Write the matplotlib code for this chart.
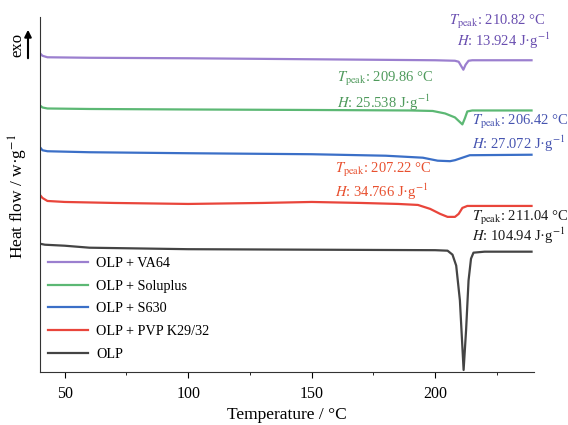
import matplotlib.pyplot as plt
from matplotlib.ticker import MultipleLocator

plt.rcParams['font.family'] = ['Liberation Serif', 'DejaVu Serif']
plt.rcParams['mathtext.fontset'] = 'stix'

# DSC curves, heat flow in arbitrary units (curves stacked, exo up)
t_va64 = [40, 41, 43, 60, 100, 150, 200, 208, 209.5, 211.4, 212.3, 213.5, 215, 239]
hf_va64 = [320.5, 318, 316.5, 316, 315.5, 314.5, 313.5, 313, 312, 304, 309, 313, 313.5, 313.5]

t_solu = [40, 41, 43, 60, 100, 150, 190, 199, 204, 208, 211, 212, 213, 215, 239]
hf_solu = [268, 266, 265, 264.5, 264, 263.5, 263, 262.5, 260, 256, 249, 255, 262, 263, 263]

t_s630 = [40, 41, 43, 60, 100, 150, 180, 195, 201, 206, 208, 211, 214, 239]
hf_s630 = [226, 223, 222, 221, 220, 219, 217.5, 215.5, 212.5, 212, 213, 215.5, 218, 218.5]

t_pvp = [40, 41, 43, 50, 70, 100, 130, 150, 170, 185, 193, 198, 202, 205, 208, 209.5, 211, 213, 239]
hf_pvp = [178, 175, 172, 171, 170, 169, 170, 171, 170, 169, 168, 164, 159, 156, 156, 159, 165, 167, 167]

t_olp = [40, 42, 50, 60, 100, 150, 200, 205, 207, 208.5, 210, 211.5, 212.5, 213.5, 214.5, 215.5, 220, 239]
hf_olp = [129, 128, 127, 125, 123.5, 123, 122.5, 122, 118, 107, 72, 2, 42, 92, 114, 120, 121, 121]

labels = ["OLP + VA64", "OLP + Soluplus", "OLP + S630", "OLP + PVP K29/32", "OLP"]
line_colors = ["#9b7fcf", "#5cb874", "#3b6fc7", "#e9453b", "#444444"]
text_colors = ["#6a4fb0", "#4f9a5c", "#4654b0", "#e8502f", "#1a1a1a"]

# annotations: (Tpeak, H, x, y of first line)
t_peaks = ["210.82", "209.86", "206.42", "207.22", "211.04"]
enthalpies = ["13.924", "25.538", "27.072", "34.766", "104.94"]
ann_pos = [(205.6, 352, 208.8, 333),
           (160.2, 295, 160.2, 271),
           (214.9, 251, 214.9, 229),
           (159.4, 203, 159.4, 181),
           (214.9, 155, 214.9, 137)]

fig = plt.figure(figsize=(5.68, 4.25), dpi=100)
ax = fig.add_axes([40 / 568, 53 / 425, 494 / 568, 355 / 425])

series = [(t_va64, hf_va64), (t_solu, hf_solu), (t_s630, hf_s630),
          (t_pvp, hf_pvp), (t_olp, hf_olp)]
for (t, hf), lab, c in zip(series, labels, line_colors):
    ax.plot(t, hf, color=c, lw=1.6, label=lab)

for i in range(5):
    x1, y1, x2, y2 = ann_pos[i]
    ax.text(x1, y1, r"$T_{\mathrm{peak}}$: " + t_peaks[i] + " °C",
            color=text_colors[i], fontsize=10.5, va="center", ha="left")
    ax.text(x2, y2, r"$H$: " + enthalpies[i] + r" J·g$^{\mathrm{-1}}$",
            color=text_colors[i], fontsize=10.5, va="center", ha="left")

ax.set_xlim(40, 240)
ax.set_ylim(0, 357)
ax.xaxis.set_major_locator(MultipleLocator(50))
ax.xaxis.set_minor_locator(MultipleLocator(25))
ax.tick_params(axis="x", which="major", direction="out", length=4, labelsize=11.5, pad=6)
ax.tick_params(axis="x", which="minor", direction="out", length=2.5)
ax.set_yticks([])
for s in ["top", "right"]:
    ax.spines[s].set_visible(False)
ax.spines["left"].set_color("#333333")
ax.spines["bottom"].set_color("#333333")

ax.set_xlabel("Temperature / °C", fontsize=12.5, labelpad=4)
fig.text(18 / 568, 1 - 196 / 425, r"Heat flow / w·g$^{\mathrm{-1}}$",
         rotation=90, fontsize=12.5, ha="center", va="center")

fig.text(17 / 568, 1 - 45 / 425, "exo", rotation=90, fontsize=12,
         ha="center", va="center")
fig.add_artist(plt.matplotlib.patches.FancyArrowPatch(
    (28 / 568, 1 - 61 / 425), (28 / 568, 1 - 27 / 425),
    transform=fig.transFigure, arrowstyle="-|>", mutation_scale=10,
    color="black", lw=1.5))

ax.legend(loc="upper left", bbox_to_anchor=(0.016, 0.324), frameon=False,
          fontsize=10.2, handlelength=2.8, handletextpad=0.6,
          labelspacing=0.68, borderpad=0, borderaxespad=0)

fig.savefig("out.png", dpi=100)
